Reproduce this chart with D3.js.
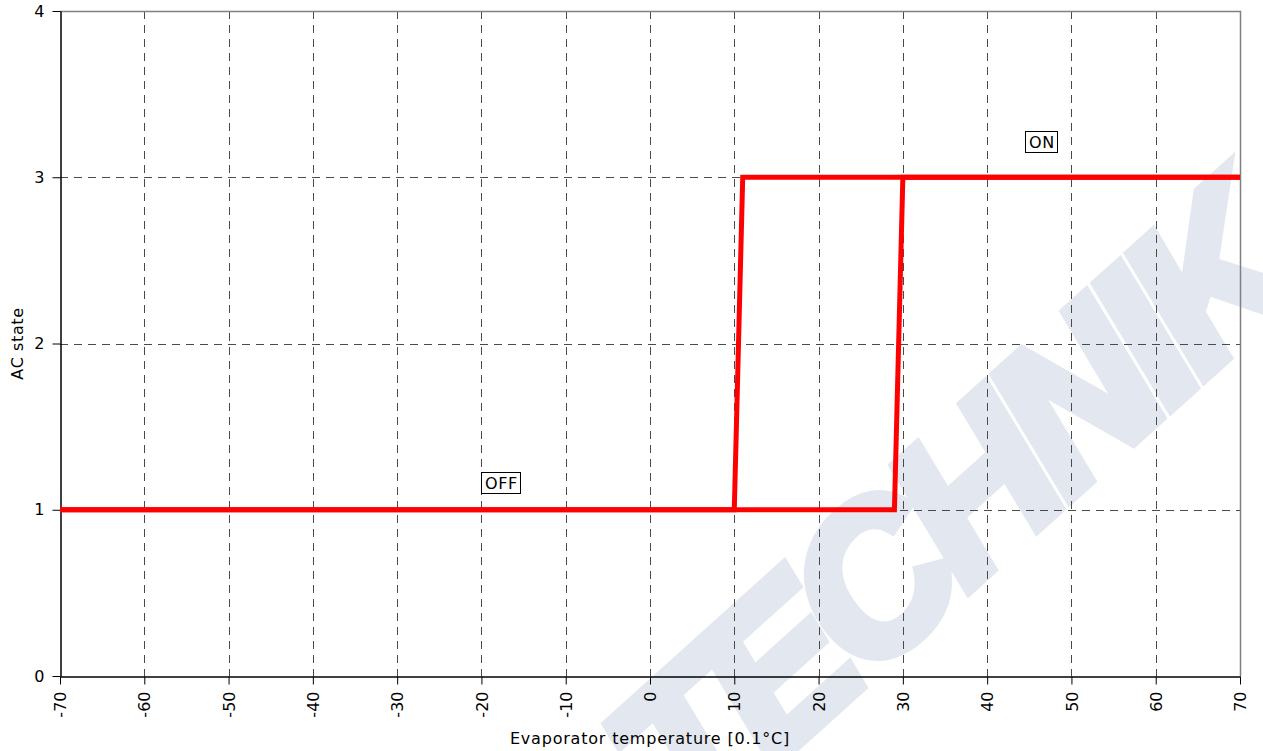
<!DOCTYPE html>
<html>
<head>
<meta charset="utf-8">
<script src="https://cdn.jsdelivr.net/npm/d3@7"></script>
<style>
  html, body { margin: 0; padding: 0; background: #fff; }
  svg { display: block; }
  text { font-family: "DejaVu Sans", Verdana, sans-serif; }
</style>
</head>
<body>
<svg id="chart" width="1263" height="751"></svg>
<script>
// Evaporator temperature axis (0.1 °C units) and AC state axis
const xTicks = [-70, -60, -50, -40, -30, -20, -10, 0, 10, 20, 30, 40, 50, 60, 70];
const yTicks = [0, 1, 2, 3, 4];

// Hysteresis curves: switching ON when rising past 30, OFF when falling below 10
const risingX = [-70, 29, 30, 70];
const risingY = [1, 1, 3, 3];
const fallingX = [-70, 10, 11, 70];
const fallingY = [1, 1, 3, 3];

// State annotations
const stateLabels = ["OFF", "ON"];
const stateLabelX = [-20, 44.5];
const stateLabelY = [1.23, 3.28];

const svg = d3.select("#chart");
const margin = { left: 60, right: 23, top: 11, bottom: 75 };
const W = 1263, H = 751;

const x = d3.scaleLinear().domain([-70, 70]).range([margin.left, W - margin.right]);
const y = d3.scaleLinear().domain([0, 4]).range([H - margin.bottom, margin.top]);

// Watermark
svg.append("text")
  .attr("transform", `translate(948,512) rotate(-42)`)
  .attr("text-anchor", "middle")
  .attr("dominant-baseline", "central")
  .style("font-family", "'Liberation Sans', Arial, sans-serif")
  .style("font-weight", "bold")
  .style("font-style", "italic")
  .style("font-size", "205px")
  .style("letter-spacing", "-12px")
  .attr("fill", "#e3e7f0")
  .attr("stroke", "#e3e7f0")
  .attr("stroke-width", 12)
  .attr("stroke-linejoin", "miter")
  .text("TECHNIK");

// Grid lines
const grid = svg.append("g").attr("stroke", "#4a4a4a").attr("stroke-width", 1)
  .attr("stroke-dasharray", "8,6").attr("shape-rendering", "crispEdges");
grid.selectAll("line.v").data(xTicks.slice(1, -1)).join("line")
  .attr("x1", d => Math.round(x(d)) + 0.5).attr("x2", d => Math.round(x(d)) + 0.5)
  .attr("y1", y(4)).attr("y2", y(0));
grid.selectAll("line.h").data(yTicks.slice(1, -1)).join("line")
  .attr("y1", d => Math.round(y(d)) + 0.5).attr("y2", d => Math.round(y(d)) + 0.5)
  .attr("x1", x(-70)).attr("x2", x(70));

// Frame (top and right)
svg.append("path")
  .attr("d", `M${x(-70)},${Math.round(y(4)) + 0.5}H${Math.round(x(70)) + 0.5}V${y(0)}`)
  .attr("fill", "none").attr("stroke", "#808080").attr("stroke-width", 1.5);

// Axes
const xAxis = svg.append("g")
  .attr("transform", `translate(0,${Math.round(y(0)) + 0.5})`)
  .call(d3.axisBottom(x).tickValues(xTicks).tickSize(8).tickSizeOuter(0).tickFormat(d => String(d)));
xAxis.select(".domain").attr("stroke", "#000").attr("stroke-width", 1.5);
xAxis.selectAll(".tick line").attr("stroke", "#000");
xAxis.selectAll(".tick text")
  .attr("transform", "rotate(-90)")
  .attr("text-anchor", "end")
  .attr("x", -15).attr("y", 0).attr("dy", "0.35em")
  .style("font-size", "16px").attr("fill", "#000");

const yAxis = svg.append("g")
  .attr("transform", `translate(${Math.round(x(-70)) + 0.5},0)`)
  .call(d3.axisLeft(y).tickValues(yTicks).tickSize(8).tickSizeOuter(0).tickFormat(d => String(d)));
yAxis.select(".domain").attr("stroke", "#000").attr("stroke-width", 1.5);
yAxis.selectAll(".tick line").attr("stroke", "#000");
yAxis.selectAll(".tick text").attr("x", -16).style("font-size", "16px").attr("fill", "#000");

// Axis titles
svg.append("text")
  .attr("x", (x(-70) + x(70)) / 2).attr("y", 744)
  .attr("text-anchor", "middle").style("font-size", "16px").style("letter-spacing", "0.8px")
  .text("Evaporator temperature [0.1°C]");
svg.append("text")
  .attr("transform", `translate(23,${(y(0) + y(4)) / 2}) rotate(-90)`)
  .attr("text-anchor", "middle").style("font-size", "16px").style("letter-spacing", "0.6px")
  .text("AC state");

// Curves
const line = d3.line().x(d => x(d[0])).y(d => y(d[1]));
[[risingX, risingY], [fallingX, fallingY]].forEach(([xs, ys]) => {
  svg.append("path")
    .datum(xs.map((v, i) => [v, ys[i]]))
    .attr("d", line)
    .attr("fill", "none").attr("stroke", "#ff0000")
    .attr("stroke-width", 5).attr("stroke-linejoin", "miter");
});

// State labels with boxes
stateLabels.forEach((t, i) => {
  const g = svg.append("g").attr("transform", `translate(${Math.round(x(stateLabelX[i]))},${Math.round(y(stateLabelY[i]))})`);
  const txt = g.append("text").attr("x", 4).attr("y", 16.5)
    .style("font-size", "16px").style("letter-spacing", "0.6px").text(t);
  const bb = txt.node().getBBox();
  g.insert("rect", "text")
    .attr("x", 0.5).attr("y", 0.5)
    .attr("width", Math.round(bb.width) + 6).attr("height", 21)
    .attr("fill", "#fff").attr("stroke", "#000").attr("stroke-width", 1);
});
</script>
</body>
</html>
